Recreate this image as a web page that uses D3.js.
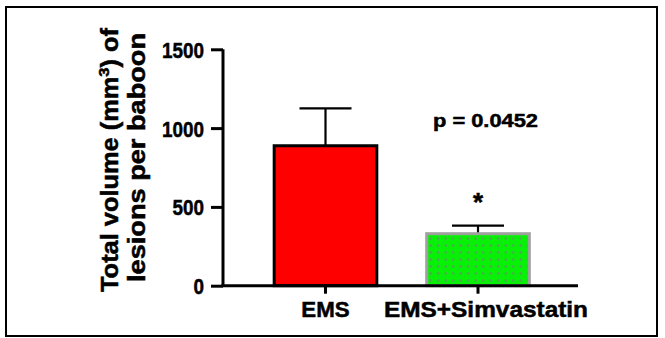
<!DOCTYPE html>
<html><head><meta charset="utf-8">
<script src="https://cdn.jsdelivr.net/npm/d3@7"></script>
<style>html,body{margin:0;padding:0;background:#fff;}svg{display:block;}</style>
</head><body>
<script>
const categories = ["EMS", "EMS+Simvastatin"];
const means = [888, 330];
const sems = [237, 51];
const yTicks = [0, 500, 1000, 1500];
const pLabel = "p = 0.0452";
const sigMarks = ["", "*"];

const W = 665, H = 338;
const font = "'Liberation Sans', Arial, Helvetica, sans-serif";
const svg = d3.select("body").append("svg").attr("width", W).attr("height", H);

// frame
svg.append("rect").attr("x", 6).attr("y", 7).attr("width", 651).attr("height", 329)
  .attr("fill", "none").attr("stroke", "#000").attr("stroke-width", 2);

const y = d3.scaleLinear().domain([0, 1500]).range([285.7, 49.3]);
const x = d3.scaleBand().domain(categories).range([249.25, 554.25]).paddingInner(0.327).paddingOuter(0.1635);

// pattern
const defs = svg.append("defs");
const pat = defs.append("pattern").attr("id", "dots").attr("patternUnits", "userSpaceOnUse")
  .attr("width", 7.5).attr("height", 7).attr("x", 427).attr("y", 235);
pat.append("rect").attr("width", 7.5).attr("height", 7).attr("fill", "#08f008");
pat.append("circle").attr("cx", 3.75).attr("cy", 3.5).attr("r", 1.2).attr("fill", "#58a058");

const fills = ["#ff0000", "url(#dots)"];
const strokes = ["#000", "#a0a0a0"];

// error bars
const eb = svg.append("g");
categories.forEach((c, i) => {
  const cx = x(c) + x.bandwidth() / 2;
  eb.append("line").attr("x1", cx).attr("x2", cx).attr("y1", y(means[i])).attr("y2", y(means[i] + sems[i]))
    .attr("stroke", "#000").attr("stroke-width", 2.2);
  eb.append("line").attr("x1", cx - 26).attr("x2", cx + 26).attr("y1", y(means[i] + sems[i])).attr("y2", y(means[i] + sems[i]))
    .attr("stroke", "#000").attr("stroke-width", 2.4);
});

// bars
svg.append("g").selectAll("rect").data(categories).join("rect")
  .attr("x", d => x(d)).attr("width", x.bandwidth())
  .attr("y", (d, i) => y(means[i])).attr("height", (d, i) => y(0) - y(means[i]))
  .attr("fill", (d, i) => fills[i]).attr("stroke", (d, i) => strokes[i]).attr("stroke-width", 3);

const bold = sel => sel.attr("font-family", font).attr("font-weight", "bold").attr("fill", "#000")
  .attr("stroke", "#000").attr("stroke-width", 0.5);

// y axis
const yAxis = svg.append("g").attr("transform", "translate(223,0)")
  .call(d3.axisLeft(y).tickValues(yTicks).tickSize(12).tickPadding(7).tickFormat(d3.format("d")));
yAxis.select(".domain").attr("stroke-width", 3).attr("d", `M0,${y(1500)}V${y(0)}`);
yAxis.selectAll(".tick line").attr("stroke-width", 3);
yAxis.selectAll(".tick text").call(bold).attr("font-size", 22).attr("dy", "0.36em")
  .attr("textLength", d => String(d).length * 10.5).attr("lengthAdjust", "spacingAndGlyphs");

// x axis
const xAxis = svg.append("g").attr("transform", `translate(0,${y(0)})`)
  .call(d3.axisBottom(x).tickSize(8).tickPadding(8));
xAxis.select(".domain").attr("stroke-width", 3).attr("d", "M221.5,0H578");
xAxis.selectAll(".tick line").attr("stroke-width", 3);
const xLens = [48.3, 204];
const xShift = [0, 8];
xAxis.selectAll(".tick text").call(bold).attr("font-size", 22).attr("dy", "0.71em")
  .attr("dx", (d, i) => xShift[i])
  .attr("textLength", (d, i) => xLens[i]).attr("lengthAdjust", "spacingAndGlyphs");

// p value and asterisk
svg.append("text").attr("x", 485.5).attr("y", 126.7).attr("text-anchor", "middle")
  .call(bold).attr("font-size", 18.5)
  .attr("textLength", 105).attr("lengthAdjust", "spacingAndGlyphs").text(pLabel);
categories.forEach((c, i) => {
  if (!sigMarks[i]) return;
  svg.append("text").attr("x", x(c) + x.bandwidth() / 2).attr("y", 211).attr("text-anchor", "middle")
    .call(bold).attr("font-size", 26).text(sigMarks[i]);
});

// y title
const t1 = svg.append("text").attr("transform", "translate(118,160) rotate(-90)").attr("text-anchor", "middle")
  .call(bold).attr("font-size", 23)
  .attr("textLength", 264).attr("lengthAdjust", "spacingAndGlyphs");
t1.append("tspan").text("Total volume (mm");
t1.append("tspan").attr("font-size", 15).attr("dy", -9).text("3");
t1.append("tspan").attr("dy", 9).text(") of");
svg.append("text").attr("transform", "translate(145,157.5) rotate(-90)").attr("text-anchor", "middle")
  .call(bold).attr("font-size", 23)
  .attr("textLength", 249).attr("lengthAdjust", "spacingAndGlyphs").text("lesions per baboon");
</script>
</body></html>
